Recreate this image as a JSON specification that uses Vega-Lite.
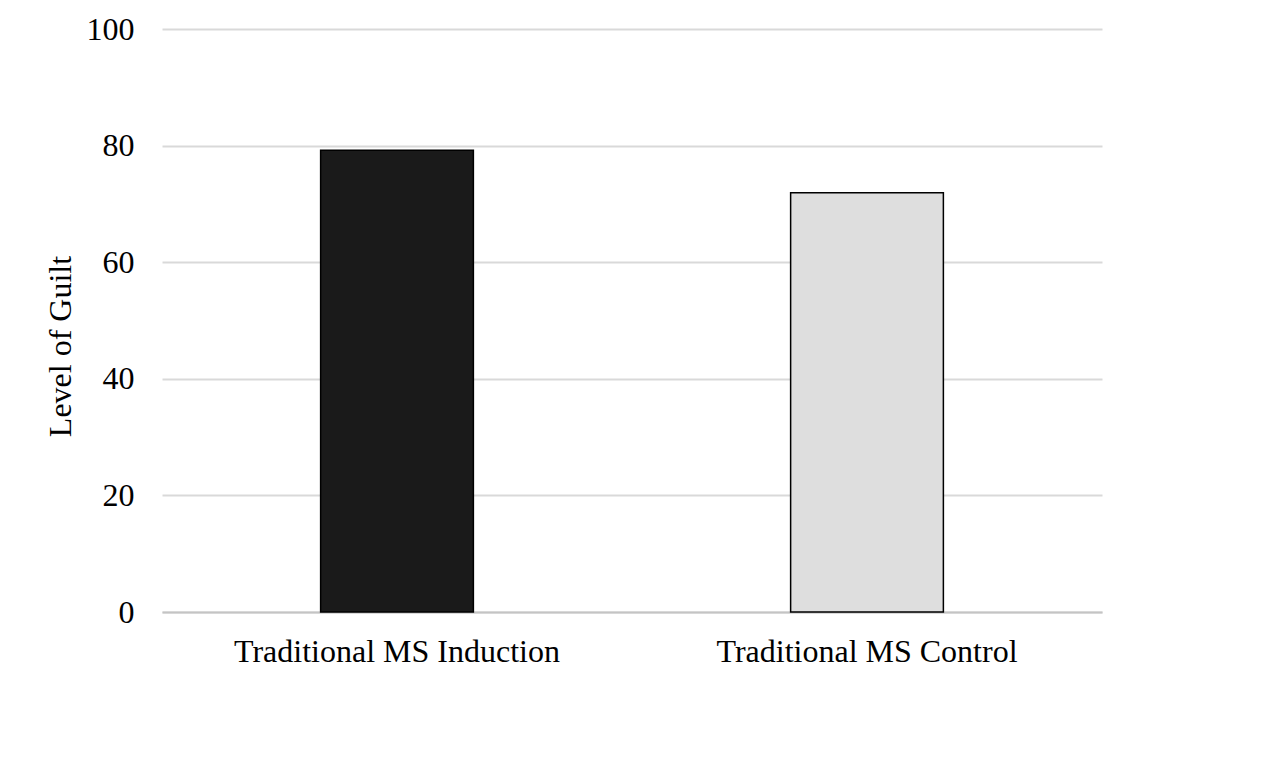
{
  "$schema": "https://vega.github.io/schema/vega-lite/v6.json",
  "autosize": "none",
  "width": 940,
  "height": 583,
  "padding": {"left": 162, "top": 29, "right": 182, "bottom": 157},
  "background": "white",
  "data": {
    "values": [
      {"condition": "Traditional MS Induction", "guilt": 79.2},
      {"condition": "Traditional MS Control", "guilt": 71.9}
    ]
  },
  "mark": {"type": "bar", "stroke": "black", "strokeWidth": 1.5},
  "encoding": {
    "x": {
      "field": "condition",
      "type": "nominal",
      "sort": null,
      "scale": {"paddingInner": 0.675, "paddingOuter": 0.3375},
      "axis": {
        "title": null,
        "labelAngle": 0,
        "labelFont": "Liberation Serif",
        "labelFontSize": 32,
        "labelColor": "#000000",
        "labelPadding": 24,
        "labelLimit": 0,
        "ticks": false,
        "tickSize": 0,
        "domainColor": "#c4c4c4",
        "domainWidth": 2,
        "grid": false
      }
    },
    "y": {
      "field": "guilt",
      "type": "quantitative",
      "scale": {"domain": [0, 100], "nice": false},
      "axis": {
        "title": "Level of Guilt",
        "titleFont": "Liberation Serif",
        "titleFontSize": 32,
        "titleFontWeight": "normal",
        "titleColor": "#000000",
        "titlePadding": 9,
        "titleY": 317,
        "values": [0, 20, 40, 60, 80, 100],
        "labelFont": "Liberation Serif",
        "labelFontSize": 32,
        "labelColor": "#000000",
        "labelPadding": 28,
        "ticks": false,
        "tickSize": 0,
        "domain": false,
        "grid": true,
        "gridColor": "#d9d9d9",
        "gridWidth": 2
      }
    },
    "fill": {
      "field": "condition",
      "type": "nominal",
      "scale": {
        "domain": ["Traditional MS Induction", "Traditional MS Control"],
        "range": ["#1a1a1a", "#dedede"]
      },
      "legend": null
    }
  },
  "config": {"view": {"stroke": null}}
}
